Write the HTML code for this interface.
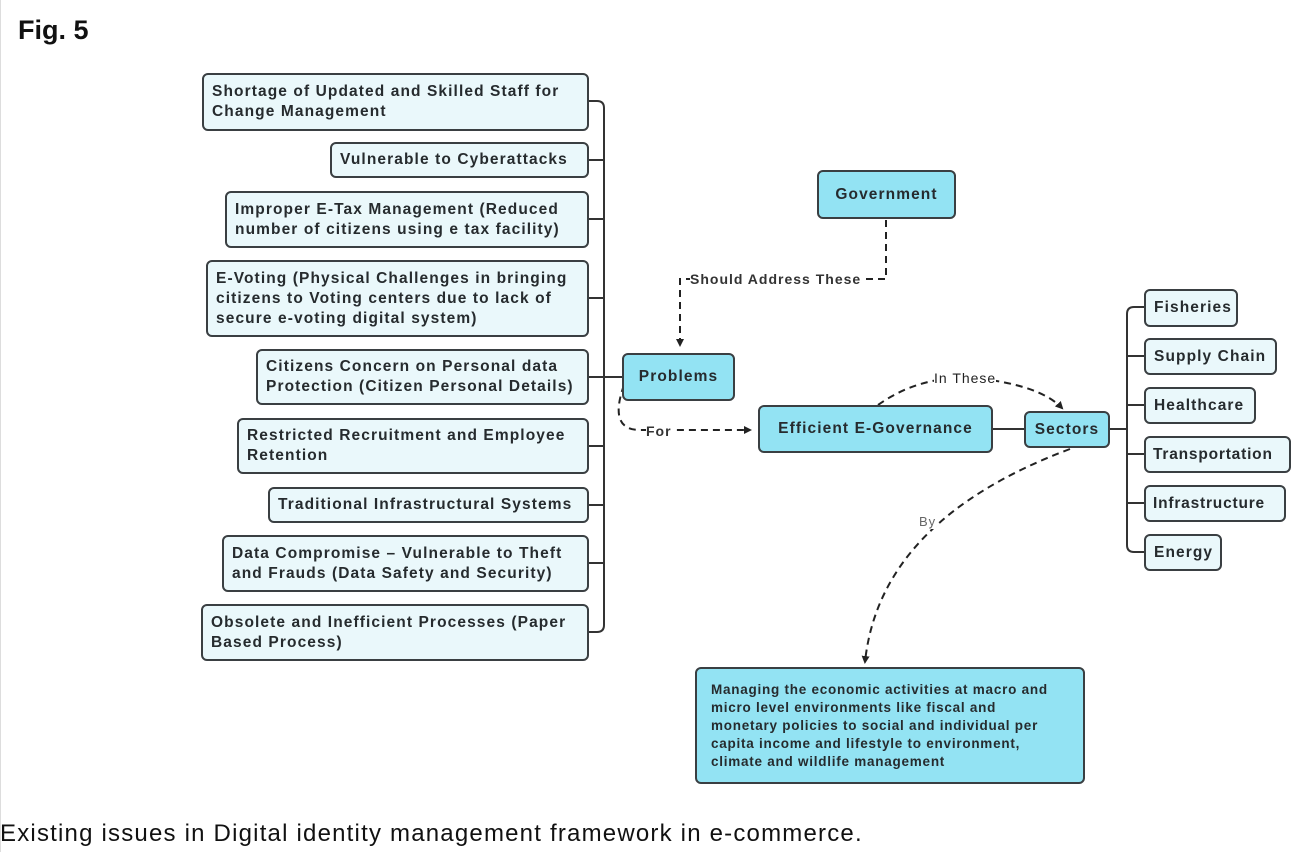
<!DOCTYPE html>
<html><head><meta charset="utf-8"><style>
body{margin:0;width:1308px;height:852px;background:#fff;position:relative;overflow:hidden;font-family:"Liberation Sans",sans-serif;}
.b{position:absolute;box-sizing:border-box;border:2px solid #3a3f42;border-radius:6px;background:#eaf8fb;font-weight:bold;font-size:15.5px;letter-spacing:1.1px;line-height:20px;color:#262b2e;padding:6px 8px;display:flex;align-items:center;white-space:nowrap;}
.c{background:#93e3f3;justify-content:center;}
.lbl{position:absolute;font-size:14px;font-weight:bold;color:#333;background:#fff;line-height:14px;letter-spacing:1px;white-space:nowrap;}
</style></head><body>
<div style="position:absolute;left:0;top:0;width:1px;height:852px;background:#ddd"></div>
<div style="position:absolute;left:18px;top:15px;font-size:27px;font-weight:bold;color:#111">Fig. 5</div>
<div style="position:absolute;left:0;top:820px;font-size:24px;letter-spacing:1.2px;color:#111;white-space:nowrap">Existing issues in Digital identity management framework in e-commerce.</div>

<svg style="position:absolute;left:0;top:0" width="1308" height="852">
<defs><marker id="a" markerWidth="8" markerHeight="8" refX="6" refY="4" orient="auto" markerUnits="userSpaceOnUse"><path d="M0,0 L8,4 L0,8 z" fill="#222"/></marker></defs>
<g stroke="#333" stroke-width="2" fill="none">
<path d="M588,101 H597 Q604,101 604,108 V625 Q604,632 597,632 H588"/>
<path d="M588,160 H604 M588,219 H604 M588,298 H604 M588,377 H622 M588,446 H604 M588,505 H604 M588,563 H604"/>
<path d="M992,429 H1024 M1109,429 H1127"/>
<path d="M1144,307 H1134 Q1127,307 1127,314 V545 Q1127,552 1134,552 H1144"/>
<path d="M1127,356 H1144 M1127,405 H1144 M1127,454 H1144 M1127,503 H1144"/>
</g>
<g stroke="#222" stroke-width="2" fill="none" stroke-dasharray="7,5">
<path d="M886,220 V279 H680 V345" marker-end="url(#a)"/>
<path d="M624,385 Q608,430 640,430 H750" marker-end="url(#a)"/>
<path d="M878,405 Q920,375 975,378 Q1040,385 1062,408" marker-end="url(#a)"/>
<path d="M1070,449 Q880,520 865,662" marker-end="url(#a)"/>
</g>
</svg>
<div class="lbl" style="left:690px;top:272px">Should Address These</div>
<div class="lbl" style="left:646px;top:424px">For</div>
<div class="lbl" style="left:934px;top:371px;font-weight:normal;color:#222">In These</div>
<div class="lbl" style="left:919px;top:515px;font-weight:normal;color:#666;font-size:13px">By</div>

<div class="b" style="left:202px;top:73px;width:387px;height:58px">Shortage of Updated and Skilled Staff for<br>Change Management</div>
<div class="b" style="left:330px;top:142px;width:259px;height:36px">Vulnerable to Cyberattacks</div>
<div class="b" style="left:225px;top:191px;width:364px;height:57px">Improper E-Tax Management (Reduced<br>number of citizens using e tax facility)</div>
<div class="b" style="left:206px;top:260px;width:383px;height:77px">E-Voting (Physical Challenges in bringing<br>citizens to Voting centers due to lack of<br>secure e-voting digital system)</div>
<div class="b" style="left:256px;top:349px;width:333px;height:56px">Citizens Concern on Personal data<br>Protection (Citizen Personal Details)</div>
<div class="b" style="left:237px;top:418px;width:352px;height:56px">Restricted Recruitment and Employee<br>Retention</div>
<div class="b" style="left:268px;top:487px;width:321px;height:36px">Traditional Infrastructural Systems</div>
<div class="b" style="left:222px;top:535px;width:367px;height:57px">Data Compromise – Vulnerable to Theft<br>and Frauds (Data Safety and Security)</div>
<div class="b" style="left:201px;top:604px;width:388px;height:57px">Obsolete and Inefficient Processes (Paper<br>Based Process)</div>

<div class="b c" style="left:622px;top:353px;width:113px;height:48px">Problems</div>
<div class="b c" style="left:817px;top:170px;width:139px;height:49px">Government</div>
<div class="b c" style="left:758px;top:405px;width:235px;height:48px">Efficient E-Governance</div>
<div class="b c" style="left:1024px;top:411px;width:86px;height:37px;padding:0">Sectors</div>

<div class="b" style="left:1144px;top:289px;width:94px;height:38px">Fisheries</div>
<div class="b" style="left:1144px;top:338px;width:133px;height:37px">Supply Chain</div>
<div class="b" style="left:1144px;top:387px;width:112px;height:37px">Healthcare</div>
<div class="b" style="left:1144px;top:436px;width:147px;height:37px;padding-left:7px;letter-spacing:0.8px">Transportation</div>
<div class="b" style="left:1144px;top:485px;width:142px;height:37px;padding-left:7px;letter-spacing:0.8px">Infrastructure</div>
<div class="b" style="left:1144px;top:534px;width:78px;height:37px">Energy</div>

<div class="b c" style="left:695px;top:667px;width:390px;height:117px;justify-content:flex-start;align-items:flex-start;font-size:13.5px;letter-spacing:0.75px;line-height:18px;padding:12px 14px">Managing the economic activities at macro and<br>micro level environments like fiscal and<br>monetary policies to social and individual per<br>capita income and lifestyle to environment,<br>climate and wildlife management</div>
</body></html>
